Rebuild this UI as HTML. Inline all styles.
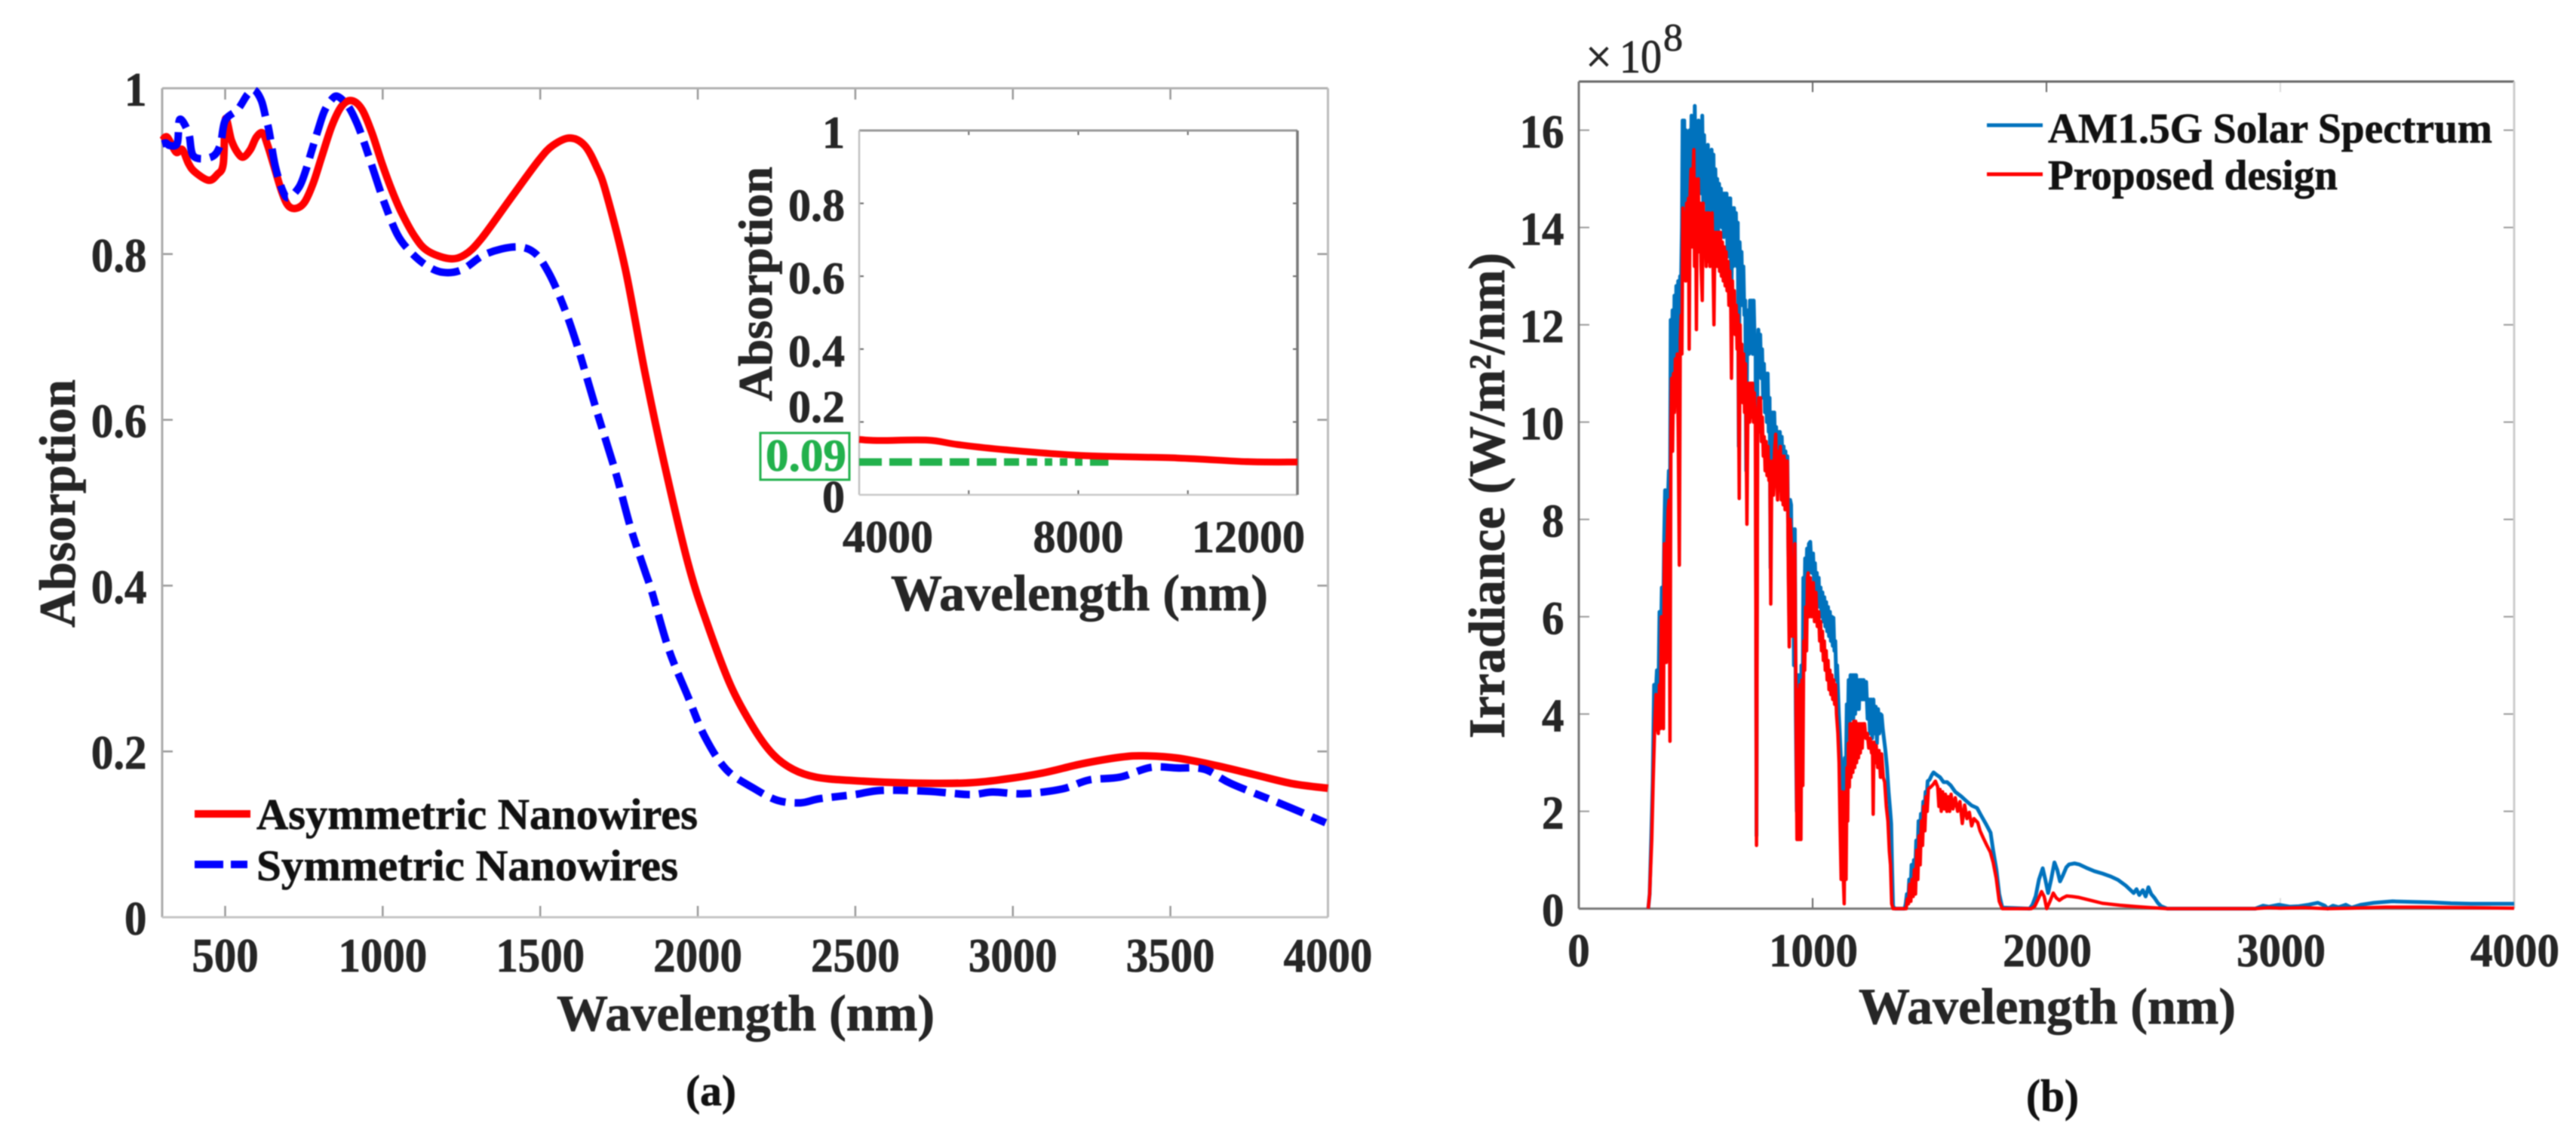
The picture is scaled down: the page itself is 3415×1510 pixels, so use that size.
<!DOCTYPE html>
<html lang="en">
<head>
<meta charset="utf-8">
<title>Absorption and irradiance spectra</title>
<style>
html,body{margin:0;padding:0;background:#fff;}
body{width:3415px;height:1510px;overflow:hidden;}
svg{display:block;filter:blur(.7px);}
text{font-family:"Liberation Serif",serif;font-weight:bold;fill:#262626;stroke:#262626;stroke-width:.8px;}
</style>
</head>
<body>
<svg id="figure" xmlns="http://www.w3.org/2000/svg" width="3415" height="1510" viewBox="0 0 3415 1510">
  <rect x="0" y="0" width="3415" height="1510" fill="#ffffff"/>
  <g id="chartA"></g>
  <g id="inset"></g>
  <g id="chartB"></g>

  <text transform="translate(99,832) rotate(-90)" font-size="68" textLength="329" lengthAdjust="spacingAndGlyphs">Absorption</text>
  <text x="738" y="1366" font-size="68" textLength="501" lengthAdjust="spacingAndGlyphs">Wavelength (nm)</text>
  <text x="909" y="1465" font-size="57" style="fill:#111" textLength="67" lengthAdjust="spacingAndGlyphs">(a)</text>

  <line x1="258" y1="1079" x2="332" y2="1079" stroke="#ff0000" stroke-width="10"/>
  <text x="340" y="1099" font-size="58" style="fill:#111" textLength="585" lengthAdjust="spacingAndGlyphs">Asymmetric Nanowires</text>
  <line x1="258" y1="1146" x2="328" y2="1146" stroke="#0000ff" stroke-width="10" stroke-dasharray="38 10 24 10"/>
  <text x="340" y="1167" font-size="58" style="fill:#111" textLength="559" lengthAdjust="spacingAndGlyphs">Symmetric Nanowires</text>

  <text transform="translate(1023,532) rotate(-90)" font-size="64" textLength="311" lengthAdjust="spacingAndGlyphs">Absorption</text>
  <text x="1181" y="809" font-size="68" textLength="500" lengthAdjust="spacingAndGlyphs">Wavelength (nm)</text>
  <rect x="1008" y="574" width="118" height="62" fill="#ffffff" stroke="#22b14c" stroke-width="3"/>
  <text x="1015" y="624" font-size="60" style="fill:#22b14c;stroke:#22b14c" textLength="107" lengthAdjust="spacingAndGlyphs">0.09</text>

  <text transform="translate(1994,979) rotate(-90)" font-size="68" textLength="644" lengthAdjust="spacingAndGlyphs">Irradiance (W/m²/nm)</text>
  <text x="2464" y="1357" font-size="68" textLength="500" lengthAdjust="spacingAndGlyphs">Wavelength (nm)</text>
  <text x="2686" y="1473" font-size="60" style="fill:#111" textLength="70" lengthAdjust="spacingAndGlyphs">(b)</text>
  <text x="2102" y="96" font-size="62" style="font-weight:normal">×</text>
  <text x="2147" y="96" font-size="62" style="font-weight:normal" textLength="56" lengthAdjust="spacingAndGlyphs">10</text>
  <text x="2205" y="67" font-size="52" style="font-weight:normal">8</text>

  <line x1="2634" y1="166" x2="2708" y2="166" stroke="#0072bd" stroke-width="5"/>
  <text x="2715" y="189" font-size="56" style="fill:#111" textLength="589" lengthAdjust="spacingAndGlyphs">AM1.5G Solar Spectrum</text>
  <line x1="2634" y1="231" x2="2708" y2="231" stroke="#ff0000" stroke-width="5"/>
  <text x="2715" y="251" font-size="56" style="fill:#111" textLength="384" lengthAdjust="spacingAndGlyphs">Proposed design</text>
</svg>

<script>
/* Panel (a): absorption spectra */
const aXTicks = [500,1000,1500,2000,2500,3000,3500,4000];
const aYTicks = [0,0.2,0.4,0.6,0.8,1];
const asymWl = [300,316,344,364,384,404,448,475,494,501,520,540,558,580,599,619,635,655,679,699,723,751,779,807,839,871,903,935,966,998,1030,1061,1102,1142,1210,1260,1312,1404,1495,1540,1594,1641,1679,1709,1770,1831,1892,1969,2030,2105,2180,2240,2302,2375,2485,2668,2851,2973,3095,3218,3340,3412,3522,3645,3767,3889,4000];
const asymAbs = [.9366,.941,.923,.926,.909,.899,.889,.896,.909,.963,.937,.922,.917,.926,.941,.946,.931,.906,.876,.859,.855,.862,.885,.918,.955,.979,.985,.974,.946,.909,.876,.849,.821,.804,.7945,.799,.818,.866,.913,.931,.94,.931,.905,.874,.782,.6595,.55,.427,.354,.279,.2266,.196,.1785,.169,.165,.162,.162,.1665,.174,.185,.193,.1947,.192,.183,.172,.161,.1556];
const symWl = [300,312,324,348,356,384,400,456,484,500,540,571,592,615,630,639,659,683,702,735,755,774,795,815,839,858,891,918,942,974,1006,1046,1085,1136,1190,1251,1327,1419,1480,1526,1572,1617,1679,1739,1786,1831,1854,1908,1969,2022,2091,2180,2253,2326,2387,2498,2582,2730,2863,2936,3034,3156,3242,3340,3437,3522,3608,3694,3865,4000];
const symAbs = [.9327,.934,.931,.9336,.9625,.9457,.918,.917,.931,.961,.9745,.9925,.998,.985,.9625,.949,.906,.876,.868,.881,.9,.924,.95,.9725,.987,.99,.978,.958,.9336,.897,.861,.824,.804,.787,.778,.781,.8,.8086,.802,.778,.739,.69,.611,.537,.471,.419,.393,.323,.266,.218,.178,.155,.141,.138,.143,.148,.153,.152,.148,.151,.149,.1547,.1656,.169,.1807,.18,.1785,.161,.1347,.1128];

/* Inset: long-wave absorption */
const insetXTicks = [4000,6000,8000,10000,12000];
const insetXLabels = [4000,8000,12000];
const insetYTicks = [0,0.2,0.4,0.6,0.8,1];
const insetWl = [4000,4330,5248,5800,6644,8058,9810,11080,12000];
const insetAbs = [.152,.149,.15,.138,.124,.108,.101,.091,.09];
const thresholdWl = [4000,8550];
const thresholdAbs = [.09,.09];

/* Panel (b): solar spectrum */
const bXTicks = [0,1000,2000,3000,4000];
const bYTicks = [0,2,4,6,8,10,12,14,16];
const solarWl = [297,303,310,316,322,328,334,340,345,350,355,360,365,369,373,377,381,385,389,393,397,401,405,409,413,417,421,425,429,433,437,441,444,447,451,454,458,462,466,470,474,478,482,486,490,494,496,500,504,508,512,516,520,524,528,532,536,540,544,548,552,556,560,564,568,572,576,580,584,588,592,596,600,604,608,612,616,620,624,628,632,636,640,644,648,652,656,660,664,668,672,676,680,684,688,692,696,700,704,708,712,716,720,724,728,732,736,740,744,748,752,756,760,764,768,772,776,780,784,788,792,796,800,804,808,812,816,820,824,828,832,836,840,844,848,852,856,860,864,868,872,876,880,884,888,892,896,900,904,908,912,916,920,924,928,932,936,940,944,948,952,956,960,964,968,972,976,980,984,990,996,1002,1006,1010,1014,1018,1022,1026,1030,1034,1038,1042,1046,1050,1054,1058,1062,1066,1070,1074,1078,1082,1086,1089,1093,1097,1101,1105,1112,1118,1122,1126,1130,1134,1138,1142,1146,1150,1154,1158,1162,1166,1170,1174,1178,1182,1186,1190,1194,1198,1202,1206,1210,1214,1218,1222,1226,1229,1235,1240,1245,1250,1255,1260,1265,1270,1275,1280,1285,1290,1295,1300,1305,1311,1318,1325,1332,1336,1340,1344,1352,1393,1398,1403,1408,1413,1418,1423,1428,1433,1438,1443,1448,1453,1458,1463,1468,1473,1478,1483,1488,1492,1500,1510,1517,1530,1545,1560,1575,1591,1610,1635,1660,1680,1703,1720,1740,1761,1772,1786,1798,1811,1928,1940,1954,1968,1984,1995,2007,2020,2034,2046,2058,2070,2085,2097,2120,2139,2170,2205,2240,2275,2306,2340,2373,2385,2397,2412,2424,2436,2448,2462,2476,2490,2516,2893,2926,2950,2994,3040,3080,3120,3161,3190,3203,3225,3250,3280,3305,3345,3400,3480,3560,3647,3730,3815,3900,4000];
const solarIrr = [0,.3,1.5,2.6,4.6,4.3,4.9,4.2,6.1,5.2,6.6,5.6,7.6,8.6,8.5,6.5,8.4,9,7,12.1,11,12.3,10.5,12.6,11.3,12.8,11.6,12.9,9,13,12.8,14,16.2,13.5,16.2,14.4,16,14.2,15.4,13.5,16,15,16.3,14.6,16.1,15.2,16.5,14.8,16,15,16.2,14.8,16,14.7,16.3,14.5,15.9,14.6,15.6,14.3,15.7,14.8,15.5,14,15.6,14.6,15.5,13.6,15.2,14.4,15,13.9,14.9,14.1,14.8,14,14.7,13.8,14.7,14,14.7,13.4,14.6,13.6,14.6,12,14.4,13.2,14.4,13.4,14.3,13.2,14.1,9.5,13.7,13,13.5,12.4,13.2,12.2,12.5,9,11.5,12.3,11.4,12.5,11.6,12.5,11.4,12.5,11.7,11.5,1.5,11,11.9,11.2,11.8,10.9,11.5,10.5,11.2,10.2,11,10,11,9.8,10.5,7,9.9,10.2,9.4,10.2,9.4,9.9,9,9.8,9.2,9.8,9,9.7,9,9.5,8.8,9.4,8.7,9.3,7.5,6,8.4,8.3,6,7.8,5,7.8,4,2,4.8,2,4.8,2,5,3,6.8,6,7.2,6.6,7.4,6.8,7.5,7.54,6.9,7.3,6.7,7.1,6.5,6.9,6.3,6.8,6.2,6.6,6,6.5,5.9,6.4,5.8,6.3,5.7,6.2,5.6,6.1,5.5,6,5.4,5.98,5.3,5.5,4.7,5,4,3.4,3,1,2.9,2,3.1,2.7,4.2,3.5,4.7,3.8,4.8,3.9,4.8,3.9,4.8,4,4.8,4.1,4.7,4.1,4.7,4.3,4.7,4.3,4.7,4.3,4.6,4.66,3.9,4.3,3.6,4.3,3.5,4.3,3.6,4.15,3.4,4.1,3.6,4,3.98,3.7,3.5,3.26,2.9,2.4,2,1.74,.8,.05,0,0,.1,.3,.1,.6,.3,.9,.4,1,.7,1.4,1,1.8,1.4,1.95,1.7,2.2,2,2.4,2.3,2.62,2.65,2.75,2.8,2.75,2.7,2.6,2.6,2.53,2.4,2.31,2.2,2.12,2.07,1.92,1.75,1.56,1.2,.8,.3,.02,0,.08,.26,.6,.83,.6,.32,.6,.95,.8,.56,.68,.85,.91,.93,.91,.84,.77,.72,.66,.59,.47,.32,.4,.28,.38,.25,.44,.3,.22,.12,.05,0,0,.06,.04,.08,.04,.05,.08,.12,.06,0,.06,.03,.08,.02,.08,.12,.15,.14,.13,.11,.1,.1,.1];
const designWl = [297,303,312,318,325,330,335,340,345,349,353,358,362,366,370,374,378,382,386,390,394,397,401,405,409,413,417,421,425,430,434,438,441,445,449,453,457,461,465,469,472,476,480,484,488,492,495,499,503,507,511,515,519,523,528,532,536,540,545,549,553,557,561,565,570,574,578,582,586,590,594,598,602,606,610,614,618,622,626,630,634,638,642,646,650,653,657,661,665,669,673,677,681,686,690,693,697,701,705,709,713,719,723,727,731,735,739,743,747,751,755,760,765,769,773,777,781,785,789,793,797,801,805,809,813,817,821,825,829,833,837,842,846,850,854,858,862,866,870,874,878,882,886,892,896,900,904,908,912,916,920,924,928,933,937,941,945,950,954,958,962,966,970,974,978,981,985,990,995,998,1003,1008,1014,1020,1026,1030,1034,1038,1042,1046,1050,1054,1058,1062,1066,1070,1074,1078,1082,1086,1090,1094,1098,1102,1108,1113,1117,1122,1126,1130,1135,1139,1143,1147,1150,1153,1157,1160,1164,1168,1172,1176,1180,1184,1188,1192,1196,1200,1204,1208,1212,1216,1222,1228,1234,1240,1246,1252,1256,1259,1262,1267,1272,1278,1284,1290,1295,1302,1308,1315,1322,1328,1333,1338,1344,1400,1405,1410,1415,1420,1425,1430,1435,1440,1445,1450,1455,1460,1465,1470,1475,1480,1485,1490,1495,1505,1515,1525,1535,1540,1545,1550,1556,1562,1568,1574,1580,1586,1592,1600,1610,1620,1630,1640,1650,1660,1670,1680,1690,1706,1716,1730,1745,1760,1772,1785,1798,1811,1935,1950,1965,1979,1990,2001,2015,2029,2042,2055,2070,2087,2110,2139,2190,2239,2315,2390,2450,2516,2893,2950,3000,3100,3200,3300,3450,3600,3800,4000];
const designIrr = [0,.3,1.4,2.6,3.8,4.4,3.8,3.6,4.6,3.7,6,3.8,3.7,7.5,5.2,5.06,7.6,8.2,8.4,3.44,9.8,10.9,9.4,11,10.2,11.3,10.4,11.4,9.9,7.06,11.7,12.2,11.4,14.4,13,14.3,12.9,14.5,13.1,14.6,11.5,14.7,15.2,13.6,15,15.6,13.2,15,11.9,14.8,15,13.5,14.5,13.2,12.5,14.5,13.4,14.3,13.2,14.3,13.3,14.3,13.2,14.2,14.3,13.3,12,13.9,13.2,13.9,13.2,13.9,13.1,13.9,13,13.7,12.9,13.6,12.8,13.5,12.7,13.3,12.4,13.1,12.4,10.9,12.9,12,12.7,11.8,12.4,11.5,12.2,8.43,12,11,11.6,10.4,11.4,10.2,11.2,7.9,10.2,10.8,10,10.8,10.1,10.8,10,10.6,10,1.3,9.8,10.5,9.8,10.5,9.6,10.1,9.3,9.7,9,9.6,8.9,9.5,8.8,9.2,6.26,8.8,9.2,8.5,9.4,9.75,9,8.4,9.4,8.6,9.5,8.4,9.3,8.3,9.3,8.2,9.2,9.2,7,5.38,8,7.6,5.6,7,5.6,7.5,4.7,1.42,4.5,1.42,4.6,1.42,4.7,2.53,5.5,4.9,6.2,5.3,6.8,6.9,6,6.8,6,6.14,6.7,5.9,6.5,5.8,6.1,5.5,5.9,5.3,5.7,5.1,5.5,4.9,5.3,4.7,5.1,4.5,4.9,4.4,4.8,4.3,4.7,4.2,4.6,4,3.6,3,1.8,.6,2.4,.8,.1,2.4,.6,2.9,1.8,3.4,2.5,3.8,2.7,3.8,2.8,3.85,2.9,3.85,3,3.8,3.1,3.8,3.2,3.8,3.3,3.8,3.8,3.5,3.6,3.3,3.5,3.2,3.42,1.94,3.42,3,3.35,2.9,3.25,2.7,3.18,2.7,2.6,2.1,1.8,1.18,.9,.1,0,0,.2,.1,.5,.15,.6,.25,.8,.3,1.2,.6,1.5,.9,1.8,1.3,2.1,1.6,2.3,2,2.46,2.5,2.55,2.62,2.5,2.1,2.45,2,2.4,2.05,2.35,2,2.3,2,2.35,2.05,2.28,2,2.2,1.75,2.13,1.85,1.98,1.7,1.85,1.77,1.6,1.45,1.3,1.16,.95,.63,.15,0,0,.05,.2,.35,.25,0,.15,.32,.22,.17,.22,.26,.25,.23,.17,.11,.07,.04,.02,0,0,.02,.01,.02,0,.01,.03,.03,.02,.01];

/* Axis scales */
function xA(v){return 298.5+(v-500)*0.4177;}
function yA(v){return 1216-v*1099;}
function xI(v){return 1139+(v-4000)*0.072625;}
function yI(v){return 656-v*483;}
function xB(v){return 2093+v*0.31;}
function yB(v){return 1204.6-v*64.5;}

const NS='http://www.w3.org/2000/svg';
function make(parent,tag,name,props){
  const el=document.createElementNS(NS,tag);
  
  
  for(const k in props){el.setAttribute(k,props[k]);}
  parent.appendChild(el);
  return el;
}
function seg(parent,name,x1,y1,x2,y2,color,w){
  return make(parent,'line',name,{x1:x1,y1:y1,x2:x2,y2:y2,stroke:color,'stroke-width':w});
}
function label(parent,name,str,x,y,size,anchor,sx){
  const el=make(parent,'text',name,{transform:'translate('+x+','+y+') scale('+sx+',1)','font-size':size,'text-anchor':anchor});
  el.textContent=str;
  return el;
}
function straightPath(xs,ys,fx,fy){
  let d='';
  const n=Math.min(xs.length,ys.length);
  for(let i=0;i<n;i++){d+=(i?'L':'M')+fx(xs[i]).toFixed(2)+' '+fy(ys[i]).toFixed(2);}
  return d;
}
function smoothPath(xs,ys,fx,fy){
  const p=xs.map(function(v,i){return [fx(v),fy(ys[i])];});
  let d='M'+p[0][0].toFixed(2)+' '+p[0][1].toFixed(2);
  for(let i=0;i<p.length-1;i++){
    const a=p[Math.max(i-1,0)],b=p[i],c=p[i+1],e=p[Math.min(i+2,p.length-1)];
    const c1x=b[0]+(c[0]-a[0])/6,c1y=b[1]+(c[1]-a[1])/6;
    const c2x=c[0]-(e[0]-b[0])/6,c2y=c[1]-(e[1]-b[1])/6;
    d+='C'+c1x.toFixed(2)+' '+c1y.toFixed(2)+' '+c2x.toFixed(2)+' '+c2y.toFixed(2)+' '+c[0].toFixed(2)+' '+c[1].toFixed(2);
  }
  return d;
}

/* --- Panel a --- */
const gA=document.getElementById('chartA');
const aL=xA(300),aR=xA(4000),aT=yA(1),aB=yA(0);
aXTicks.forEach(function(v){
  if(v<4000){
    seg(gA,'a-top-tick-'+v,xA(v),aT,xA(v),aT+15,'#999',2.5);
    seg(gA,'a-bottom-tick-'+v,xA(v),aB,xA(v),aB-15,'#999',2.5);
  }
  label(gA,'a-x-tick-label-'+v,String(v),xA(v),1288,64,'middle',0.92);
});
aYTicks.forEach(function(v){
  if(v>0&&v<1){
    seg(gA,'a-left-tick-'+v,aL,yA(v),aL+14,yA(v),'#999',2.5);
    seg(gA,'a-right-tick-'+v,aR,yA(v),aR-14,yA(v),'#999',2.5);
  }
  label(gA,'a-y-tick-label-'+v,String(v),194.5,yA(v)+23,64,'end',0.92);
});
seg(gA,'a-axis-top',aL,aT,aR,aT,'#b0b0b0',3);
seg(gA,'a-axis-left',aL,aT,aL,aB,'#aaa',3);
seg(gA,'a-axis-bottom',aL,aB,aR,aB,'#c4c4c4',3);
seg(gA,'a-axis-right',aR,aT,aR,aB,'#bbb',3);
make(gA,'path','asymmetric-nanowires-line',{d:smoothPath(asymWl,asymAbs,xA,yA),fill:'none',stroke:'#ff0000','stroke-width':10,'stroke-linejoin':'round'});
make(gA,'path','symmetric-nanowires-line',{d:smoothPath(symWl,symAbs,xA,yA),fill:'none',stroke:'#0000ff','stroke-width':10,'stroke-dasharray':'38 12 20 12'});

/* --- Inset --- */
const gI=document.getElementById('inset');
const iL=xI(4000),iR=xI(12000),iT=yI(1),iB=yI(0);
insetXTicks.forEach(function(v){
  if(v>4000&&v<12000){
    seg(gI,'inset-top-tick-'+v,xI(v),iT,xI(v),iT+6,'#666',2);
    seg(gI,'inset-bottom-tick-'+v,xI(v),iB,xI(v),iB-6,'#666',2);
  }
});
insetXLabels.forEach(function(v){
  const cx=Math.min(Math.max(xI(v),iL+38),iR-65);
  label(gI,'inset-x-tick-label-'+v,String(v),cx,732,60,'middle',1);
});
insetYTicks.forEach(function(v){
  if(v>0&&v<1){
    seg(gI,'inset-left-tick-'+v,iL,yI(v),iL+6,yI(v),'#666',2);
    seg(gI,'inset-right-tick-'+v,iR,yI(v),iR-6,yI(v),'#666',2);
  }
  const shift=(v===0.2)?0:23;
  label(gI,'inset-y-tick-label-'+v,String(v),1120,yI(v)+shift,60,'end',1);
});
seg(gI,'inset-axis-top',iL,iT,iR,iT,'#999',3);
seg(gI,'inset-axis-left',iL,iT,iL,iB,'#c0c0c0',2.5);
seg(gI,'inset-axis-bottom',iL,iB,iR,iB,'#c8c8c8',2.5);
seg(gI,'inset-axis-right',iR,iT,iR,iB,'#777',3.5);
make(gI,'path','inset-threshold-line',{d:straightPath(thresholdWl,thresholdAbs,xI,yI),fill:'none',stroke:'#22b14c','stroke-width':10,'stroke-dasharray':'30 10 30 10 30 10 26 10 26 10 20 10 14 10 10 10 10 10 10 10'});
make(gI,'path','inset-absorption-line',{d:smoothPath(insetWl,insetAbs,xI,yI),fill:'none',stroke:'#ff0000','stroke-width':9});

/* --- Panel b --- */
const gB=document.getElementById('chartB');
const bL=xB(0),bR=xB(4000),bT=yB(17),bBt=yB(0);
bXTicks.forEach(function(v){
  if(v>0&&v<4000){
    seg(gB,'b-top-tick-'+v,xB(v),bT,xB(v),bT+14,v===3000?'#ddd':'#666',2);
    seg(gB,'b-bottom-tick-'+v,xB(v),bBt,xB(v),bBt-14,v===1000?'#666':'#ddd',2);
  }
  label(gB,'b-x-tick-label-'+v,String(v),v===0?xB(v):xB(v)+1,1281,62,'middle',0.95);
});
bYTicks.forEach(function(v){
  if(v>0){
    seg(gB,'b-left-tick-'+v,bL,yB(v),bL+14,yB(v),'#999',2);
    seg(gB,'b-right-tick-'+v,bR,yB(v),bR-14,yB(v),'#999',2);
  }
  label(gB,'b-y-tick-label-'+v,String(v),2073.5,yB(v)+23,62,'end',0.95);
});
seg(gB,'b-axis-top',bL,bT,bR,bT,'#666',3);
seg(gB,'b-axis-left',bL,bT,bL,bBt,'#777',3);
seg(gB,'b-axis-right',bR,bT,bR,bBt,'#ccc',3);
seg(gB,'b-axis-bottom',bL,bBt,bR,bBt,'#777',3);
make(gB,'path','am15g-solar-spectrum-line',{d:straightPath(solarWl,solarIrr,xB,yB),fill:'none',stroke:'#0072bd','stroke-width':5,'stroke-linejoin':'round'});
make(gB,'path','proposed-design-line',{d:straightPath(designWl,designIrr,xB,yB),fill:'none',stroke:'#ff0000','stroke-width':4.5,'stroke-linejoin':'round'});
</script>
</body>
</html>
